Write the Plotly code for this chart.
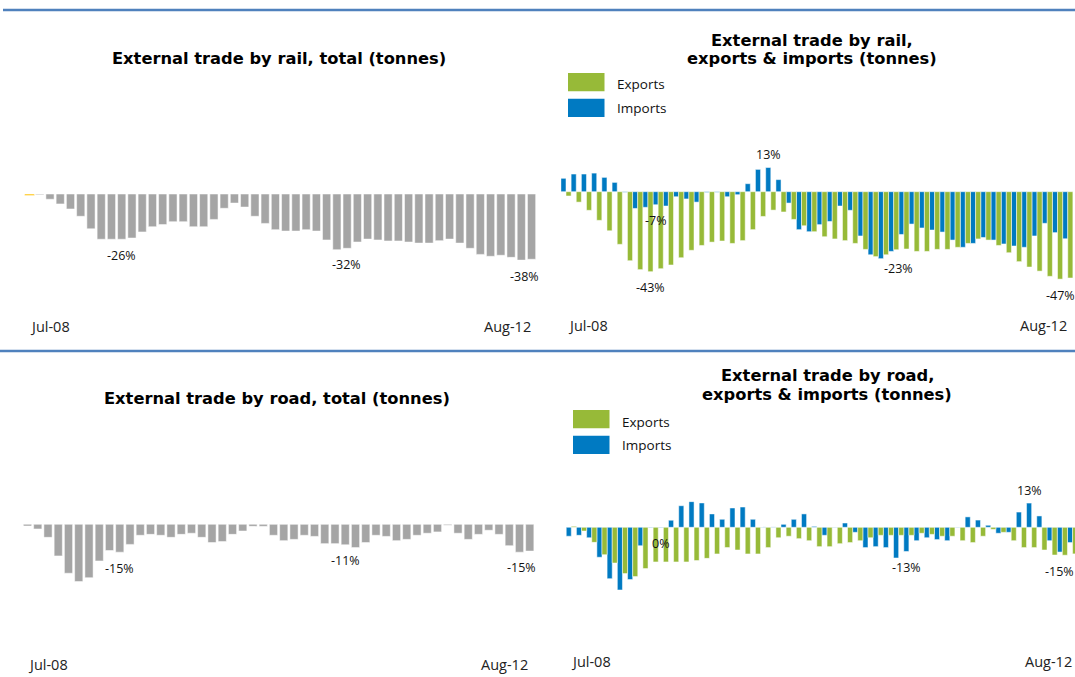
import pandas as pd
import plotly.graph_objects as go

# Monthly categories, Jul-08 .. Aug-12
months = pd.date_range("2008-07-01", periods=50, freq="MS").strftime("%b-%y").tolist()

# Year-on-year change (%) of external trade tonnage
rail_total = [
    -0.8, -0.4, -3.0, -5.7, -8.6, -12.8, -20.0, -26.0, -26.0, -26.0,
    -25.3, -21.8, -18.8, -17.6, -15.9, -15.9, -18.8, -18.8, -14.6, -8.2,
    -5.2, -7.5, -12.8, -16.9, -20.5, -21.3, -21.3, -20.5, -21.3, -26.4,
    -32.0, -31.2, -27.6, -25.9, -26.4, -27.0, -27.0, -27.6, -28.2, -28.2,
    -26.8, -25.9, -28.2, -31.2, -34.7, -35.8, -35.2, -36.4, -38.0, -37.5,
]
rail_exports = [
    -2.3, -5.6, -10.0, -15.4, -21.0, -28.3, -37.1, -41.9, -43.0, -41.4,
    -39.4, -35.5, -31.5, -28.9, -27.1, -26.5, -27.8, -26.3, -20.4, -13.3,
    -9.9, -10.9, -14.9, -18.3, -21.5, -24.2, -25.4, -26.3, -27.8, -31.0,
    -34.9, -33.9, -31.2, -30.8, -32.1, -32.1, -31.0, -31.0, -29.9, -27.8,
    -25.4, -26.0, -28.9, -32.8, -37.6, -40.5, -42.7, -45.5, -47.0, -46.4,
]
rail_imports = [
    7.2, 9.5, 9.5, 10.0, 7.7, 5.0, -0.3, -9.0, -8.4, -7.0,
    -7.7, -2.7, -3.9, -5.6, -0.4, -0.3, -2.7, -1.6, 4.3, 12.0,
    13.0, 6.5, -6.1, -20.4, -21.5, -17.7, -16.0, -7.7, -10.0, -23.8,
    -33.9, -36.0, -32.1, -23.0, -17.4, -19.5, -20.6, -21.7, -26.0, -29.9,
    -27.8, -24.6, -26.0, -28.1, -29.2, -29.9, -23.8, -17.0, -22.0, -25.3,
]
road_total = [
    -0.9, -2.5, -7.0, -17.0, -26.3, -30.8, -28.7, -19.7, -14.1, -15.0,
    -10.8, -5.9, -5.4, -5.9, -7.0, -5.4, -4.8, -7.0, -9.8, -9.3,
    -5.4, -3.6, -1.1, -1.1, -5.9, -8.8, -8.1, -5.9, -6.5, -10.4,
    -10.4, -11.0, -12.5, -9.8, -5.9, -6.5, -8.8, -8.1, -5.9, -4.8,
    -4.1, -0.5, -4.8, -8.1, -5.4, -3.2, -5.4, -11.5, -15.0, -14.4,
]
road_exports = [
    0.5, -2.0, -8.1, -14.7, -19.2, -24.9, -26.5, -22.2, -18.6, -18.6,
    -18.6, -18.6, -17.9, -16.7, -14.3, -10.9, -12.2, -14.3, -14.3, -10.9,
    -5.6, -4.8, -6.1, -7.2, -10.4, -10.4, -8.8, -8.2, -7.2, -5.6,
    -4.3, -4.3, -4.3, -4.3, -3.2, -3.8, -4.8, -4.8, -7.2, -8.2,
    -4.8, -1.1, -2.7, -7.2, -10.9, -10.9, -12.2, -14.9, -15.0, -14.3,
]
road_imports = [
    -4.8, -4.3, -5.6, -16.1, -27.6, -33.7, -28.1, -9.9, -0.2, -0.2,
    3.8, 11.6, 13.8, 13.1, 7.2, 4.3, 10.4, 10.9, 4.3, 0.2,
    0.2, 1.6, 4.3, 7.2, 0.5, -4.3, -0.2, 2.3, -2.7, -10.9,
    -10.4, -10.9, -16.5, -13.0, -7.2, -5.6, -6.6, -7.2, -0.2, 5.6,
    3.9, 1.1, -3.2, -2.7, 8.2, 13.0, 6.1, -7.2, -13.3, -8.2,
]

# Months whose value is written on the chart
rail_total_marked = [9, 30, 48]
rail_exports_marked = [8, 48]
rail_imports_marked = [9, 20, 33]
road_total_marked = [9, 31, 48]
road_exports_marked = [48]
road_imports_marked = [9, 33, 45]

W, H = 1075, 677
GRAY = "#A5A5A5"
HIGHLIGHT = "#FFC000"
GREEN = "#97BA38"
BLUE = "#007AC2"
RULE = "#4F81BD"
LABEL_FONT = "Open Sans"
TITLE_FONT = "DejaVu Sans"

# Pixel geometry of each panel: first category centre, category step,
# zero line, pixels per percentage point, plot top and bottom
panels = {
    1: dict(center0=29.5, step=10.246, zero=194.0, ppu=1.74, top=120, bottom=310),
    2: dict(center0=566.0, step=10.24, zero=191.7, ppu=1.86, top=120, bottom=310),
    3: dict(center0=27.5, step=10.25, zero=524.3, ppu=1.86, top=460, bottom=645),
    4: dict(center0=571.3, step=10.23, zero=527.3, ppu=1.86, top=460, bottom=645),
}

layout_axes = {}
for n, p in panels.items():
    left = p["center0"] - p["step"] / 2
    right = min(W, left + 50 * p["step"])
    sfx = "" if n == 1 else str(n)
    layout_axes["xaxis" + sfx] = dict(
        domain=[left / W, right / W],
        range=[-0.5, -0.5 + (right - left) / p["step"]],
        type="category", categoryorder="array", categoryarray=months,
        visible=False, anchor="y" + sfx, fixedrange=True,
    )
    layout_axes["yaxis" + sfx] = dict(
        domain=[1 - p["bottom"] / H, 1 - p["top"] / H],
        range=[-(p["bottom"] - p["zero"]) / p["ppu"], (p["zero"] - p["top"]) / p["ppu"]],
        visible=False, anchor="x" + sfx, fixedrange=True,
    )

fig = go.Figure()
outline = dict(color="rgba(255,255,255,0.85)", width=0.6)

def total_bars(values, n):
    sfx = "" if n == 1 else str(n)
    colors = [GRAY] * len(values)
    widths = [0.8] * len(values)
    if n == 1:
        colors[0] = HIGHLIGHT
        widths[0] = 0.97
    fig.add_trace(go.Bar(
        x=months, y=values, width=widths,
        marker=dict(color=colors, line=outline),
        xaxis="x" + sfx, yaxis="y" + sfx, name="Total",
    ))

def pair_bars(exports, imports, n):
    sfx = str(n)
    fig.add_trace(go.Bar(
        x=months, y=imports, offset=-0.5, width=0.5,
        marker=dict(color=BLUE, line=outline),
        xaxis="x" + sfx, yaxis="y" + sfx, name="Imports",
    ))
    fig.add_trace(go.Bar(
        x=months, y=exports, offset=0.0, width=0.5,
        marker=dict(color=GREEN, line=outline),
        xaxis="x" + sfx, yaxis="y" + sfx, name="Exports",
    ))

total_bars(rail_total, 1)
pair_bars(rail_exports, rail_imports, 2)
total_bars(road_total, 3)
pair_bars(road_exports, road_imports, 4)

annotations = []

def pct(v):
    return f"{int(round(v))}%"

def value_labels(values, marked, n, offset=0.0, extra=None):
    sfx = "" if n == 1 else str(n)
    extra = extra or {}
    for i in marked:
        v = values[i]
        dy = 13 if v > 0 else -16
        dx = 0
        if i in extra:
            dx, dy = extra[i]
        annotations.append(dict(
            x=i + offset, y=v, xref="x" + sfx, yref="y" + sfx,
            text=pct(v), showarrow=False, xanchor="center", yanchor="middle",
            xshift=dx, yshift=dy,
            font=dict(family=LABEL_FONT, size=12.5, color="#111111"),
        ))

value_labels(rail_total, rail_total_marked, 1, extra={30: (10, -15), 48: (3, -16.5)})
value_labels(rail_exports, rail_exports_marked, 2, offset=0.25)
value_labels(rail_imports, rail_imports_marked, 2, offset=-0.25, extra={33: (-2.5, -34)})
value_labels(road_total, road_total_marked, 3, extra={48: (2, -15)})
value_labels(road_exports, road_exports_marked, 4, offset=0.25, extra={48: (-5, -16)})
value_labels(road_imports, road_imports_marked, 4, offset=-0.25)

# First and last month under each panel
end_labels = {1: (326.5, -1, 1), 2: (326, 0, 1), 3: (664, -2, 0), 4: (661.5, -2, 1)}
for n, (ypix, dx0, dx1) in end_labels.items():
    sfx = "" if n == 1 else str(n)
    for idx, anchor, dx in ((0, "left", dx0), (len(months) - 1, "right", dx1)):
        annotations.append(dict(
            x=idx, y=1 - ypix / H, xref="x" + sfx, yref="paper",
            text=months[idx], showarrow=False, xanchor=anchor, yanchor="middle",
            xshift=dx, font=dict(family=LABEL_FONT, size=14.5, color="#222222"),
        ))

# Panel titles
titles = [
    ("External trade by rail, total (tonnes)", 279, 59),
    ("External trade by rail,", 812, 40),
    ("exports & imports (tonnes)", 812, 58.5),
    ("External trade by road, total (tonnes)", 277, 398),
    ("External trade by road,", 827, 375),
    ("exports & imports (tonnes)", 827, 394),
]
for text, xpix, ypix in titles:
    annotations.append(dict(
        x=xpix / W, y=1 - ypix / H, xref="paper", yref="paper",
        text=f"<b>{text}</b>", showarrow=False, xanchor="center", yanchor="middle",
        font=dict(family=TITLE_FONT, size=16.3, color="#000000"),
    ))

# Series keys for the two export/import panels
shapes = []
for (x0, y0) in ((568, 73), (573, 410)):
    for k, (name, color, text_dy) in enumerate((("Exports", GREEN, 11.5), ("Imports", BLUE, 9.5))):
        top = y0 + k * 25.7
        shapes.append(dict(
            type="rect", xref="paper", yref="paper",
            x0=x0 / W, x1=(x0 + 36.5) / W, y0=1 - (top + 18.3) / H, y1=1 - top / H,
            fillcolor=color, line=dict(width=0),
        ))
        annotations.append(dict(
            x=(x0 + 47) / W, y=1 - (top + text_dy) / H, xref="paper", yref="paper",
            text=name, showarrow=False, xanchor="left", yanchor="middle",
            font=dict(family=LABEL_FONT, size=13.5, color="#111111"),
        ))

# Blue rules framing the two rows
for ypix, x0 in ((10, 3), (351, 0)):
    shapes.append(dict(
        type="line", xref="paper", yref="paper",
        x0=x0 / W, x1=1, y0=1 - ypix / H, y1=1 - ypix / H,
        line=dict(color=RULE, width=2.5),
    ))

fig.update_layout(
    width=W, height=H,
    margin=dict(l=0, r=0, t=0, b=0),
    paper_bgcolor="white", plot_bgcolor="white",
    showlegend=False, barmode="overlay",
    annotations=annotations, shapes=shapes,
    **layout_axes,
)

fig.write_html("out.html", config={"displayModeBar": False})
